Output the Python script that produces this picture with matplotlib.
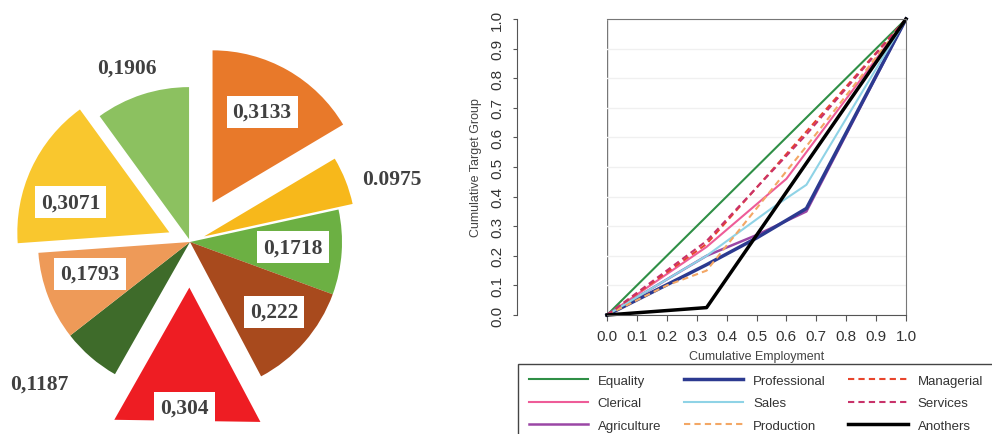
import numpy as np
import matplotlib
matplotlib.use("Agg")
import matplotlib.pyplot as plt
from matplotlib.patches import Polygon

# ---- pie data (clockwise from 12 o'clock) ----
pie_values = [0.3133, 0.0975, 0.1718, 0.222, 0.304, 0.1187, 0.1793, 0.3071, 0.1906]
pie_text = ["0,3133", "0.0975", "0,1718", "0,222", "0,304", "0,1187", "0,1793", "0,3071", "0,1906"]
pie_colors = ["#E8792A", "#F7B81B", "#6CB043", "#A84A1D", "#EE1D23",
              "#3E6B2A", "#EE9A58", "#F9C72E", "#8CC160"]
pie_explode = [0.3, 0.1, 0, 0, 0.3, 0, 0, 0.15, 0.02]
# label layout: distance from wedge apex (in radii), angle tweak, boxed or not
label_r = [0.68, 1.29, 0.68, 0.72, 0.79, 1.36, 0.69, 0.68, 1.2]
label_dt = [1, -4.6, 1, 1.3, -1.5, -5.8, -3.4, 8, 1.8]
label_box = [True, False, True, True, True, False, True, True, False]
TRIANGLE = 4  # the red slice is drawn as a triangle

# ---- concentration curves ----
x_eq = [0, 1]
y_eq = [0, 1]
x_prof = [0, 0.333, 0.5, 0.667, 1]
y_prof = [0, 0.17, 0.26, 0.36, 1]
x_man = [0, 0.333, 0.667, 1]
y_man = [0, 0.24, 0.62, 1]
x_cler = [0, 0.333, 0.6, 1]
y_cler = [0, 0.23, 0.46, 1]
x_sales = [0, 0.333, 0.55, 0.667, 1]
y_sales = [0, 0.2, 0.36, 0.44, 1]
x_serv = [0, 0.333, 0.667, 1]
y_serv = [0, 0.25, 0.61, 1]
x_agri = [0, 0.333, 0.5, 0.667, 1]
y_agri = [0, 0.2, 0.27, 0.35, 1]
x_prod = [0, 0.2, 0.333, 0.667, 1]
y_prod = [0, 0.1, 0.15, 0.57, 1]
x_oth = [0, 0.333, 1]
y_oth = [0, 0.025, 1]

W, H = 992, 435
fig = plt.figure(figsize=(W / 100, H / 100), dpi=100)

# ================= left: pie =================
R_PX = 152
cx, cy = 190, 243
ax1 = fig.add_axes([0, 0, 440 / W, 1])
wedges, _ = ax1.pie(pie_values, colors=pie_colors, startangle=90, counterclock=False,
                    explode=pie_explode, radius=1, wedgeprops=dict(linewidth=0))
ax1.set_xlim(-cx / R_PX, (440 - cx) / R_PX)
ax1.set_ylim(-(H - cy) / R_PX, cy / R_PX)
ax1.set_aspect("auto")
ax1.axis("off")

for i, w in enumerate(wedges):
    c = np.array(w.center)
    t1, t2 = np.radians(w.theta1), np.radians(w.theta2)
    if i == TRIANGLE:
        w.set_visible(False)
        pts = [c, c + w.r * np.array([np.cos(t1), np.sin(t1)]),
               c + w.r * np.array([np.cos(t2), np.sin(t2)])]
        ax1.add_patch(Polygon(pts, closed=True, color=pie_colors[i], lw=0))
    mid = np.radians((w.theta1 + w.theta2) / 2 + label_dt[i])
    pos = c + label_r[i] * w.r * np.array([np.cos(mid), np.sin(mid)])
    kw = dict(ha="center", va="center", fontsize=15.5, fontweight="bold",
              family="Liberation Serif", color="#404040", zorder=5)
    if label_box[i]:
        kw["bbox"] = dict(boxstyle="square,pad=0.28", fc="white", ec="none")
    ax1.text(pos[0], pos[1], pie_text[i], **kw)

# ================= right: curves =================
plt.rcParams["font.family"] = ["Liberation Sans", "DejaVu Sans"]
ax2 = fig.add_axes([607 / W, (H - 316) / H, 299 / W, 296 / H])

# move the y spine first: set_position resets the ticks
ax2.spines["left"].set_position(("outward", 65))

series = [
    ("Equality", x_eq, y_eq, "#2F8F46", "-", 1.5),
    ("Clerical", x_cler, y_cler, "#EE5C98", "-", 1.5),
    ("Agriculture", x_agri, y_agri, "#9B46A5", "-", 1.8),
    ("Professional", x_prof, y_prof, "#2C3A90", "-", 2.5),
    ("Sales", x_sales, y_sales, "#8FD3E6", "-", 1.5),
    ("Production", x_prod, y_prod, "#F3A765", (0, (3, 2)), 1.5),
    ("Managerial", x_man, y_man, "#E8452C", (0, (3, 2)), 1.5),
    ("Services", x_serv, y_serv, "#C8326A", (0, (3, 2)), 1.5),
    ("Anothers", x_oth, y_oth, "black", "-", 2.5),
]
handles = []
for name, xs, ys, col, ls, lw in series:
    ln, = ax2.plot(xs, ys, color=col, linestyle=ls, lw=lw, clip_on=False, label=name)
    handles.append(ln)

ax2.set_xlim(0, 1)
ax2.set_ylim(0, 1)
ticks = np.round(np.arange(0, 1.01, 0.1), 1)
ax2.set_xticks(ticks)
ax2.set_yticks(ticks)
ax2.set_xticklabels([f"{t:.1f}" for t in ticks], fontsize=11, color="#333333")
ax2.set_yticklabels([f"{t:.1f}" for t in ticks], fontsize=11, color="#333333")
ax2.tick_params(axis="y", labelrotation=90)
for lab in ax2.get_yticklabels():
    lab.set_va("center")
ax2.grid(axis="y", color="#f0f0f0", lw=1)
ax2.set_axisbelow(True)

for s in ["top", "right"]:
    ax2.spines[s].set_color("#777777")
ax2.spines["bottom"].set_color("#555555")
ax2.spines["left"].set_bounds(0, 1)
ax2.spines["left"].set_color("#555555")
ax2.axvline(0, color="#777777", lw=1, zorder=0)
ax2.tick_params(axis="x", length=4, pad=6, color="#555555")
ax2.tick_params(axis="y", length=3, pad=6, color="#555555")

ax2.set_xlabel("Cumulative Employment", fontsize=9, color="#444444", labelpad=5)
ax2.set_ylabel("Cumulative Target Group", fontsize=9, color="#444444", labelpad=6)

order = ["Equality", "Clerical", "Agriculture", "Professional", "Sales",
         "Production", "Managerial", "Services", "Anothers"]
hmap = {h.get_label(): h for h in handles}
leg = fig.legend([hmap[k] for k in order], order, ncol=3, loc="upper left",
                 bbox_to_anchor=(518 / W, (H - 365) / H), fontsize=9.5,
                 handlelength=4.5, handletextpad=0.75, columnspacing=1.7,
                 labelspacing=0.78, borderpad=0.8, borderaxespad=0,
                 fancybox=False, edgecolor="#444444", framealpha=1)
leg.get_frame().set_linewidth(1)
for t in leg.get_texts():
    t.set_color("#333333")

fig.savefig("out.png", dpi=100)
